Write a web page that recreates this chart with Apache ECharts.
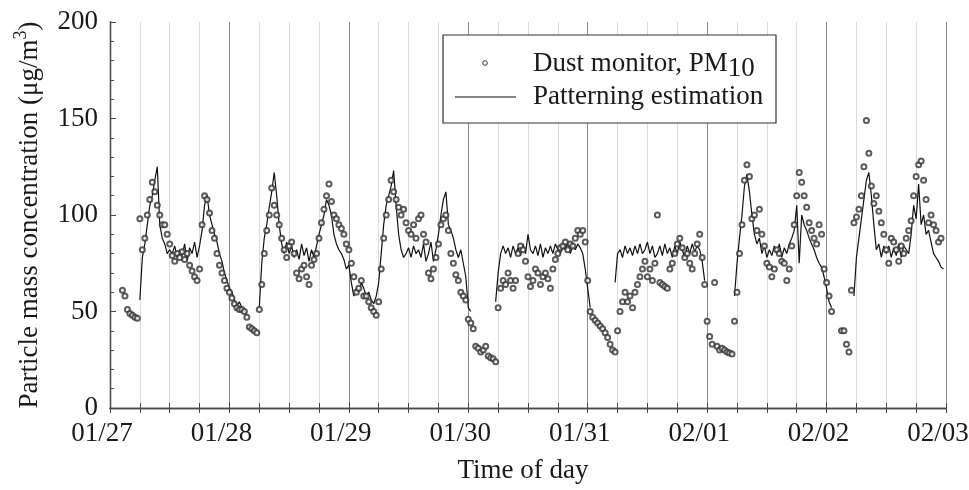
<!DOCTYPE html>
<html>
<head>
<meta charset="utf-8">
<script src="https://cdn.jsdelivr.net/npm/echarts@6/dist/echarts.min.js"></script>
<style>
  html, body { margin: 0; padding: 0; background: #fff; }
  #chart { width: 969px; height: 490px; }
</style>
</head>
<body>
<div id="chart"></div>
<script>
// Date labels at each midnight of the week
const dayLabels = ['01/27', '01/28', '01/29', '01/30', '01/31', '02/01', '02/02', '02/03'];

// Half-hourly PM10 readings from the dust monitor (µg/m3), one array per day from 00:00; null = no reading
const dust0127 = [null, null, null, null, null, 61, 58, 51, 49, 48, 47, 46.5,
  98, 82, 88, 100, 108, 117, 112, 105, 100, 95, 95, 90,
  85, 79, 76, 80, 78, 81, 77, 80, 74, 71, 68, 66,
  72, 95, 110, 108, 101, 92, 88, 80, 74, 70, 66, 62];
const dust0128 = [60, 57, 54, 52, 51, 51, 50, 47, 42, 41, 40, 39,
  51, 64, 80, 92, 100, 114, 105, 100, 95, 88, 82, 78,
  84, 86, 80, 70, 67, 72, 74, 68, 64, 74, 77, 80,
  88, 96, 103, 110, 116, 107, 100, 98, 95, 93, 90, 85];
const dust0129 = [82, 75, 68, 60, 62, 66, 58, 58, 55, 52, 50, 48,
  55, 72, 88, 100, 108, 118, 112, 108, 104, 100, 103, 96,
  92, 90, 95, 88, 98, 100, 90, 86, 70, 67, 72, 78,
  85, 95, 98, 100, 92, 80, 75, 69, 66, 60, 58, 56];
const dust0130 = [46, 44, 41, 32, 31, 29, 30, 32, 27, 26, 25.5, 24,
  52, 62, 66, 64, 70, 66, 62, 66, 80, 84, 82, 76,
  68, 63, 66, 72, 70, 64, 68, 70, 67, 62, 72, 77,
  80, 83, 84, 86, 82, 85, 84, 88, 92, 90, 92, 86];
const dust0131 = [66, 50, 47, 45.5, 44, 42.5, 41, 39, 36.5, 33, 30, 29,
  40, 50, 55, 60, 55, 58, 52, 60, 64, 68, 72, 76,
  68, 72, 66, 75, 100, 65, 64, 63, 62, 72, 75, 80,
  85, 88, 83, 78, 80, 75, 72, 80, 85, 90, 78, 64];
const dust0201 = [45, 37, 33, 65, 32, 30, 31, 30, 29, 28.5, 28, 45,
  60, 80, 95, 118, 126, 120, 98, 100, 92, 103, 90, 84,
  75, 73, 68, 72, 82, 80, 76, 75, 66, 72, 84, 95,
  110, 122, 117, 110, 104, 96, 92, 88, 85, 95, 90, 72];
const dust0202 = [65, 58, 50, null, null, null, 40, 40, 33, 29, 61, 96,
  99, 103, 110, 125, 149, 132, 115, 106, 110, 102, 96, 90,
  82, 75, 88, 86, 82, 76, 84, 80, 88, 92, 97, 110,
  120, 126, 128, 118, 108, 96, 100, 95, 92, 86, 88, null];

// Half-hourly patterning estimation (µg/m3), same layout; null = not estimated
const est0127 = [null, null, null, null, null, null, null, null, null, null, null, null,
  56, 78, 85, 95, 105, 110, 118, 125, 95, 88, 85, 80,
  82, 80, 84, 78, 82, 79, 85, 76, 83, 80, 86, 78,
  84, 92, 105, 110, 100, 95, 90, 86, 80, 76, 70, 66];
const est0128 = [62, 60, 56, 53, 55, 52, 50, 49, null, null, null, null,
  52, 75, 88, 95, 104, 112, 122, 110, 95, 85, 80, 86,
  80, 84, 78, 82, 77, 85, 79, 83, 76, 82, 78, 84,
  90, 95, 100, 108, 105, 100, 90, 85, 82, 80, 77, 72];
const est0129 = [74, 65, 58, 62, 60, 65, 62, 58, 60, 56, 54, 58,
  65, 80, 95, 105, 110, 115, 123, 105, 90, 82, 78, 80,
  83, 78, 84, 80, 82, 78, 85, 76, 80, 86, 76, 82,
  90, 100, 108, 112, 95, 92, 88, 82, 78, 82, 75, 68];
const est0130 = [52, 50, null, null, null, null, null, null, null, null, null, 55,
  70, 80, 84, 80, 83, 78, 84, 80, 83, 79, 85, 80,
  90, 82, 80, 84, 79, 85, 78, 83, 80, 84, 80, 85,
  82, 80, 84, 82, 86, 80, 84, 82, 85, 83, 80, 72];
const est0131 = [62, 52, null, null, null, null, null, null, null, null, null, 65,
  80, 82, 78, 84, 80, 83, 79, 84, 80, 85, 80, 82,
  86, 80, 84, 78, 80, 84, 79, 85, 80, 83, 78, 84,
  80, 86, 82, 78, 84, 80, 85, 81, 84, 82, 76, 66];
const est0201 = [null, null, null, null, null, null, null, null, null, null, null, 58,
  75, 88, 100, 115, 121, 112, 100, 90, 85, 88, 80, 84,
  78, 82, 79, 84, 80, 85, 78, 83, 80, 85, 88, 92,
  105, 75, 100, 95, 92, 88, 85, 82, 78, 75, 73, 68];
const est0202 = [62, 55, 52, null, null, null, null, null, null, null, null, 58,
  78, 88, 98, 108, 118, 122, 110, 95, 82, 85, 78, 84,
  80, 84, 78, 83, 79, 85, 78, 84, 82, 80, 90, 105,
  98, 116, 95, 100, 90, 92, 86, 80, 78, 76, 73, 72];

const dustDays = [dust0127, dust0128, dust0129, dust0130, dust0131, dust0201, dust0202];
const estDays = [est0127, est0128, est0129, est0130, est0131, est0201, est0202];
const STEP_HOURS = 0.5;

// Turn the per-day arrays into [hours since 01/27 00:00, value] pairs
function toPoints(days, keepGaps) {
  const pts = [];
  days.forEach((arr, d) => {
    arr.forEach((v, i) => {
      const t = d * 24 + i * STEP_HOURS;
      if (v === null) { if (keepGaps) pts.push([t, '-']); }
      else pts.push([t, v]);
    });
  });
  return pts;
}

const FONT = "'Liberation Serif', 'Times New Roman', serif";
const INK = '#1a1a1a';
const FRAME = '#4a4a4a';

const chart = echarts.init(document.getElementById('chart'), null, { renderer: 'canvas' });

chart.setOption({
  animation: false,
  backgroundColor: '#fff',
  grid: { left: 110, right: 23, top: 22, bottom: 82, containLabel: false, outerBoundsMode: 'none' },
  xAxis: [{
    type: 'value', min: 0, max: 168, interval: 6,
    axisLine: { show: true, lineStyle: { color: FRAME, width: 1.3 } },
    axisTick: { show: true, inside: true, length: 5, lineStyle: { color: FRAME, width: 1 } },
    axisLabel: {
      formatter: v => (v % 24 === 0 ? dayLabels[v / 24] : ''),
      color: INK, fontSize: 27, fontFamily: FONT, margin: 12,
      padding: [0, 16, 0, 0],
      showMinLabel: true, showMaxLabel: true
    },
    splitLine: { show: true, lineStyle: { color: ['#8c8c8c', '#dcdcdc', '#dcdcdc', '#dcdcdc'], width: 1 } },
    name: 'Time of day', nameLocation: 'middle', nameGap: 49,
    nameTextStyle: { color: INK, fontSize: 27, fontFamily: FONT, padding: [0, 10, 0, 0] }
  }, {
    type: 'value', position: 'top', min: 0, max: 168, interval: 6,
    axisLine: { show: true, lineStyle: { color: FRAME, width: 1.3 } },
    axisTick: { show: true, inside: true, length: 5, lineStyle: { color: FRAME, width: 1 } },
    axisLabel: { show: false },
    splitLine: { show: false }
  }],
  yAxis: [{
    type: 'value', min: 0, max: 200, interval: 50,
    axisLine: { show: true, lineStyle: { color: FRAME, width: 1.3 } },
    axisTick: { show: true, inside: true, length: 6, lineStyle: { color: FRAME, width: 1 } },
    minorTick: { show: true, splitNumber: 5, length: 4, lineStyle: { color: FRAME, width: 1 } },
    axisLabel: { color: INK, fontSize: 27, fontFamily: FONT, margin: 12 },
    splitLine: { show: false },
    name: '{t|Particle mass concentration (μg/m}{sup|3}{t|)}',
    nameLocation: 'middle', nameRotate: 90, nameGap: 62,
    nameTextStyle: {
      color: INK, fontSize: 27, fontFamily: FONT,
      rich: {
        t: { color: INK, fontSize: 27, fontFamily: FONT, lineHeight: 30 },
        sup: { color: INK, fontSize: 18, fontFamily: FONT, lineHeight: 20, padding: [0, 0, 16, 0] }
      }
    }
  }, {
    type: 'value', position: 'right', min: 0, max: 200, interval: 50,
    axisLine: { show: true, lineStyle: { color: FRAME, width: 1.3 } },
    axisTick: { show: false }, axisLabel: { show: false }, splitLine: { show: false }
  }],
  series: [{
    name: 'Patterning estimation',
    type: 'line',
    data: toPoints(estDays, true),
    connectNulls: false,
    showSymbol: false,
    lineStyle: { color: '#111', width: 1.2 },
    z: 3
  }, {
    name: 'Dust monitor, PM10',
    type: 'scatter',
    data: toPoints(dustDays, false),
    symbol: 'emptyCircle',
    symbolSize: 5,
    itemStyle: { color: '#333', borderColor: '#333', borderWidth: 1 },
    z: 4
  }],
  graphic: [
    { type: 'rect', z: 100, shape: { x: 443, y: 35, width: 333, height: 88 },
      style: { fill: '#fff', stroke: '#333', lineWidth: 1.2 } },
    { type: 'circle', z: 101, shape: { cx: 485, cy: 63, r: 2.3 },
      style: { fill: 'none', stroke: '#333', lineWidth: 1 } },
    { type: 'line', z: 101, shape: { x1: 455, y1: 97, x2: 516, y2: 97 },
      style: { stroke: '#111', lineWidth: 1.2 } },
    { type: 'text', z: 101, x: 533, y: 64,
      style: {
        text: '{a|Dust monitor, PM}{s|10}', verticalAlign: 'middle',
        rich: {
          a: { fill: INK, fontSize: 27, fontFamily: FONT, lineHeight: 30 },
          s: { fill: INK, fontSize: 27, fontFamily: FONT, lineHeight: 30, padding: [9, 0, 0, 0] }
        }
      } },
    { type: 'text', z: 101, x: 533, y: 97,
      style: { text: 'Patterning estimation', fill: INK, fontSize: 27, fontFamily: FONT, verticalAlign: 'middle' } }
  ]
});
</script>
</body>
</html>
